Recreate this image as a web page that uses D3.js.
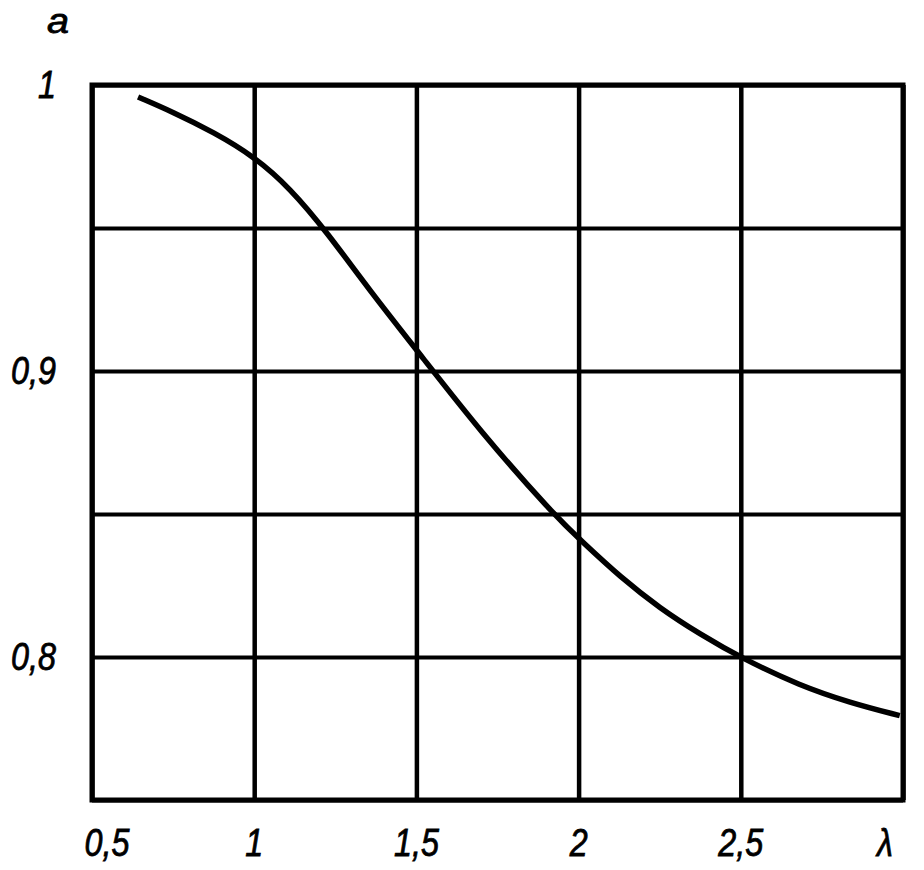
<!DOCTYPE html>
<html>
<head>
<meta charset="utf-8">
<script src="https://cdn.jsdelivr.net/npm/d3@7"></script>
<style>
  html, body { margin: 0; padding: 0; background: #fff; }
  svg { display: block; }
  text { font-family: "Liberation Sans", Arial, sans-serif; font-style: italic; fill: #000; }
</style>
</head>
<body>
<svg id="chart" width="924" height="870"></svg>
<script>
// Data
const lambdaValues = [0.642, 0.75, 0.875, 1.0, 1.11, 1.224, 1.357, 1.517, 1.696, 1.921, 2.014, 2.128, 2.251, 2.374, 2.504, 2.682, 2.837, 2.99];
const aValues      = [0.9958, 0.9905, 0.9835, 0.975, 0.964, 0.9486, 0.928, 0.905, 0.879, 0.850, 0.840, 0.828, 0.817, 0.808, 0.7995, 0.790, 0.784, 0.7795];
const xTickValues = [0.5, 1, 1.5, 2, 2.5, 3];
const xTickLabels = ["0,5", "1", "1,5", "2", "2,5", "λ"];
const yGridValues = [0.75, 0.8, 0.85, 0.9, 0.95, 1.0];
const yTickValues = [0.8, 0.9, 1.0];
const yTickLabels = ["0,8", "0,9", "1"];
const yTitle = "a";

const svg = d3.select("#chart");
const x = d3.scaleLinear().domain([0.5, 3]).range([92, 903]);
const y = d3.scaleLinear().domain([0.75, 1]).range([800, 85]);

// Grid: vertical lines
const xGrid = d3.axisBottom(x).tickValues(xTickValues).tickSize(-(y(0.75) - y(1))).tickFormat("");
svg.append("g").attr("transform", `translate(0,${y(0.75)})`).call(xGrid)
  .call(g => g.select(".domain").remove())
  .call(g => g.selectAll("line").attr("stroke", "#000").attr("stroke-width", 4.5));

// Grid: horizontal lines
const yGrid = d3.axisLeft(y).tickValues(yGridValues).tickSize(-(x(3) - x(0.5))).tickFormat("");
svg.append("g").attr("transform", `translate(${x(0.5)},0)`).call(yGrid)
  .call(g => g.select(".domain").remove())
  .call(g => g.selectAll("line").attr("stroke", "#000").attr("stroke-width", 4));

// Frame
svg.append("rect")
  .attr("x", x(0.5)).attr("y", y(1))
  .attr("width", x(3) - x(0.5)).attr("height", y(0.75) - y(1))
  .attr("fill", "none").attr("stroke", "#000").attr("stroke-width", 5);

// Curve
const pts = lambdaValues.map((l, i) => [l, aValues[i]]);
const line = d3.line().x(d => x(d[0])).y(d => y(d[1])).curve(d3.curveBasis);
svg.append("path").datum(pts).attr("d", line)
  .attr("fill", "none").attr("stroke", "#000").attr("stroke-width", 5.5)
  .attr("stroke-linecap", "butt");

// X tick labels
const xOffsets = xTickValues.map((v, i) => i === 0 ? 15 : (i === xTickValues.length - 1 ? -18 : 0));
svg.append("g").selectAll("text").data(xTickValues).join("text")
  .attr("transform", (d, i) => `translate(${x(d) + xOffsets[i]},856) scale(0.85,1)`)
  .attr("text-anchor", "middle")
  .attr("font-size", 38)
  .attr("stroke", "#000").attr("stroke-width", 0.8)
  .text((d, i) => xTickLabels[i]);

// Y tick labels
svg.append("g").selectAll("text").data(yTickValues).join("text")
  .attr("transform", d => `translate(56,${y(d) + 13}) scale(0.85,1)`)
  .attr("text-anchor", "end")
  .attr("font-size", 38)
  .attr("stroke", "#000").attr("stroke-width", 0.8)
  .text((d, i) => yTickLabels[i]);

// Y title
svg.append("text")
  .attr("transform", "translate(58,33) scale(1.1,1)")
  .attr("text-anchor", "middle")
  .attr("font-size", 36)
  .attr("stroke", "#000").attr("stroke-width", 0.8)
  .text(yTitle);
</script>
</body>
</html>
